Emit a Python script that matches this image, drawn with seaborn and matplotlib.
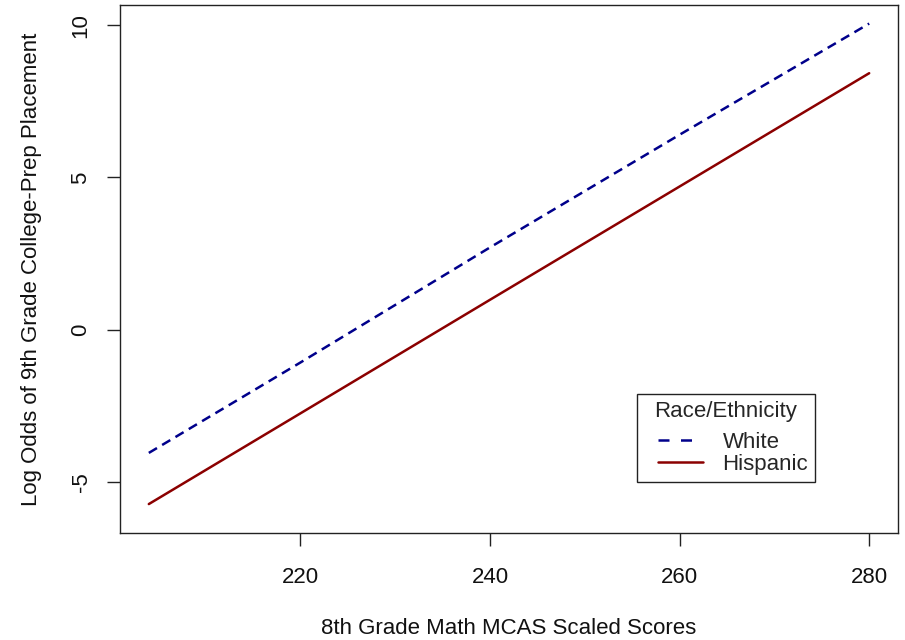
import matplotlib
matplotlib.use("Agg")
import matplotlib.pyplot as plt
from matplotlib.lines import Line2D
from matplotlib.legend_handler import HandlerLine2D
import numpy as np
import pandas as pd
import seaborn as sns

# Predicted log odds of college-prep placement by 8th grade MCAS score
scores = [204, 220, 240, 260, 280]
white_logodds = [-4.05, -1.08, 2.70, 6.40, 10.05]
hispanic_logodds = [-5.73, -2.75, 0.98, 4.70, 8.42]
groups = ["White", "Hispanic"]
x_ticks = [220, 240, 260, 280]
y_ticks = [-5, 0, 5, 10]

df = pd.DataFrame({
    "score": scores * 2,
    "logodds": white_logodds + hispanic_logodds,
    "group": [groups[0]] * len(scores) + [groups[1]] * len(scores),
})

sns.set_style("white")
plt.rcParams["font.family"] = ["Liberation Sans", "DejaVu Sans"]

colors = {"White": "#00008B", "Hispanic": "#8B0000"}
dash_styles = {"White": (3.8, 2.4), "Hispanic": ""}
LW = 1.8

fig = plt.figure(figsize=(9.05, 6.4), dpi=100)
ax = fig.add_axes([120 / 905, 1 - 533 / 640, 778 / 905, 528 / 640])

sns.lineplot(data=df, x="score", y="logodds", hue="group", style="group",
             palette=colors, dashes=dash_styles, linewidth=LW,
             legend=False, ax=ax)

ax.set_xlim(200.96, 283.04)
ax.set_ylim(-6.68, 10.66)
ax.set_xticks(x_ticks)
ax.set_yticks(y_ticks)
ax.set_xticklabels([str(v) for v in x_ticks], fontsize=16, color="#111111")
ax.set_yticklabels([str(v) for v in y_ticks], fontsize=16, color="#111111",
                   rotation=90, va="center")
ax.tick_params(axis="both", which="major", length=9.5, width=1.0,
               color="#222222", direction="out", bottom=True, left=True)
ax.tick_params(axis="x", pad=15)
ax.tick_params(axis="y", pad=11)

for side in ["left", "right", "top", "bottom"]:
    ax.spines[side].set_visible(True)
    ax.spines[side].set_color("#222222")
    ax.spines[side].set_linewidth(1.0)

ax.set_xlabel("8th Grade Math MCAS Scaled Scores", fontsize=16, color="#111111")
ax.set_ylabel("Log Odds of 9th Grade College-Prep Placement", fontsize=16,
              color="#111111")
ax.xaxis.set_label_coords(0.5, (533 - 628) / 528)
ax.xaxis.label.set_va("center")
ax.yaxis.set_label_coords((32 - 120) / 778, 0.5)
ax.yaxis.label.set_va("center")

# Legend with a boxed title and indented line samples
handles = [
    Line2D([], [], color=colors["White"], lw=LW, dashes=(4.4, 4.6)),
    Line2D([], [], color=colors["Hispanic"], lw=LW),
]
indent = 0.65
handler = HandlerLine2D(xpad=indent)
leg = ax.legend(handles, groups, title="Race/Ethnicity", loc="upper left",
                bbox_to_anchor=((637 - 120) / 778, (533 - 394) / 528),
                borderaxespad=0, fontsize=16, title_fontsize=16,
                frameon=True, fancybox=False, framealpha=1,
                edgecolor="#222222", handlelength=2.0 + indent,
                handletextpad=0.9, borderpad=0.3, labelspacing=0.05,
                handler_map={h: handler for h in handles})
leg.get_frame().set_linewidth(1.0)
leg._legend_box.sep = 7.3

fig.savefig("out.png", dpi=100, facecolor="white")
